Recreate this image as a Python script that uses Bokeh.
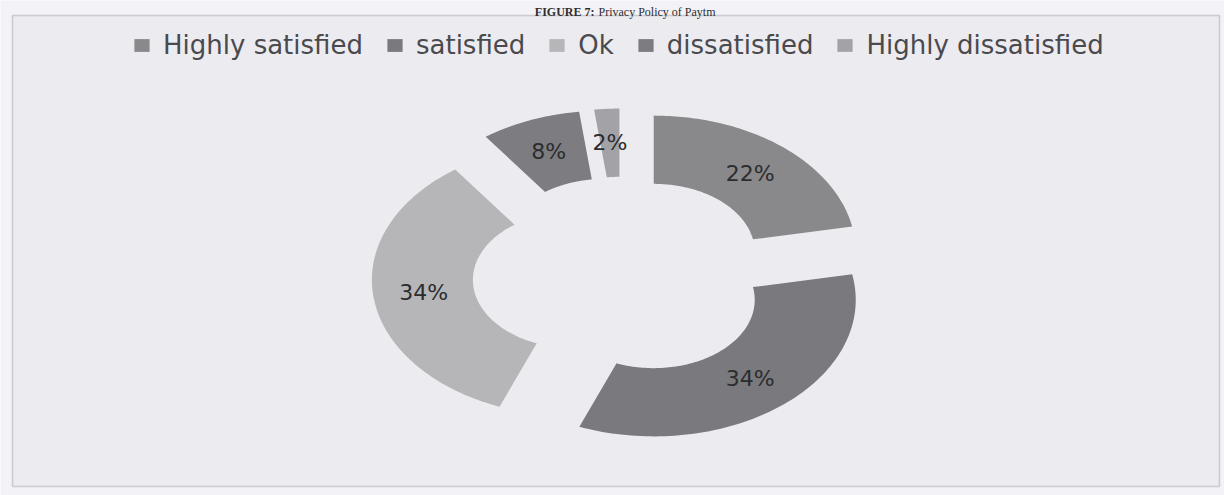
import numpy as np
from bokeh.plotting import figure
from bokeh.models import Range1d, ColumnDataSource, Legend, LegendItem, BoxAnnotation
from bokeh.core.properties import value
from bokeh.embed import file_html
from bokeh.resources import INLINE

# ---- data ----
categories = ["Highly satisfied", "satisfied", "Ok", "dissatisfied", "Highly dissatisfied"]
shares = [22, 34, 34, 8, 2]
share_labels = ["22%", "34%", "34%", "8%", "2%"]
colors = ["#89898b", "#7a7a7e", "#b6b6b9", "#7d7d81", "#a3a3a7"]
title_bold = "FIGURE 7:"
title_rest = "Privacy Policy of Paytm"

# ---- layout (pixels) ----
W, H = 1224, 495
CX, CY = 622, 275.5          # donut centre
RX, RY = 202, 136.5          # outer radii (scan is stretched horizontally)
HOLE = 0.5                   # inner / outer radius
EX, EY = 49, 31              # explosion offset

total = float(sum(shares))
ends = 90 - 360 * np.cumsum(shares) / total
starts = np.concatenate([[90.0], ends[:-1]])

xs, ys, lx, ly = [], [], [], []
for s, e in zip(starts, ends):
    mid = np.radians((s + e) / 2)
    ox, oy = EX * np.cos(mid), -EY * np.sin(mid)
    t = np.radians(np.linspace(s, e, 90))
    tr = t[::-1]
    px = np.concatenate([CX + ox + RX * np.cos(t), CX + ox + HOLE * RX * np.cos(tr)])
    py = np.concatenate([CY + oy - RY * np.sin(t), CY + oy - HOLE * RY * np.sin(tr)])
    xs.append(px.tolist())
    ys.append(py.tolist())
    lx.append(CX + ox + 0.75 * RX * np.cos(mid))
    ly.append(CY + oy - 0.75 * RY * np.sin(mid))

src = ColumnDataSource(dict(xs=xs, ys=ys, color=colors, category=categories))
lab_src = ColumnDataSource(dict(x=lx, y=ly, text=share_labels))

p = figure(width=W, height=H, x_range=Range1d(0, W), y_range=Range1d(H, 0),
           output_backend="svg", toolbar_location=None, min_border=0,
           x_axis_location=None, y_axis_location=None)
p.grid.visible = False
p.outline_line_color = None
p.background_fill_color = "#f3f2f6"
p.border_fill_color = "#f3f2f6"

frame_box = BoxAnnotation(left=12, right=1219, top=15, bottom=486,
                          fill_color="#ecebf0", fill_alpha=1.0,
                          line_color="#7c7c80", line_width=1.6, level="underlay")
p.add_layout(frame_box)

r = p.patches("xs", "ys", fill_color="color", line_color=None, source=src)

p.text("x", "y", text="text", source=lab_src, text_align="center", text_baseline="middle",
       text_font=value("DejaVu Sans"), text_font_size="22px", text_color="#2c2c2e")

# title (above the chart frame)
p.text(x=[594], y=[11], text=[title_bold], text_align="right", text_baseline="alphabetic",
       text_font=value("Liberation Serif"), text_font_style="bold", text_font_size="12px",
       text_color="#2e2e30")
p.text(x=[598], y=[11], text=[title_rest], text_align="left", text_baseline="alphabetic",
       text_font=value("Liberation Serif"), text_font_size="12px", text_color="#2e2e30")

legend = Legend(items=[LegendItem(label=c, renderers=[r], index=i) for i, c in enumerate(categories)],
                orientation="horizontal", location=(132, H - 60),
                label_text_font="DejaVu Sans", label_text_font_size="26px",
                label_text_color="#4a4a4e", glyph_width=19, glyph_height=16,
                label_standoff=12, spacing=22, padding=0, margin=0,
                border_line_color=None, background_fill_alpha=0)
p.add_layout(legend)

open("out.html", "w").write(file_html(p, INLINE))
